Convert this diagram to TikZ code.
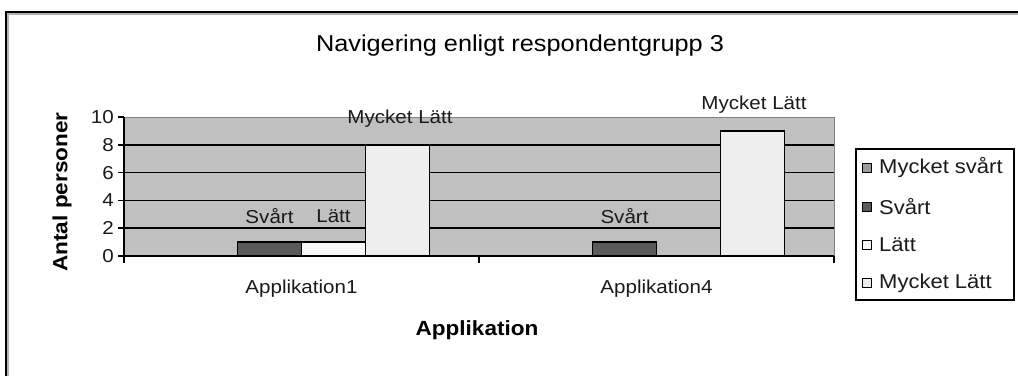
\documentclass[tikz,border=0pt]{standalone}
\usepackage{fontspec}
\setmainfont{Liberation Sans}[FakeStretch=1.1]
\definecolor{plotbg}{HTML}{C0C0C0}
\definecolor{mycketsvart}{HTML}{9C9C9C}
\definecolor{svart}{HTML}{5A5A5A}
\definecolor{latt}{HTML}{F8F8F8}
\definecolor{mycketlatt}{HTML}{EEEEEE}
\definecolor{labelgray}{HTML}{1A1A1A}
\newcommand{\lbl}{\fontsize{18.7}{22}\selectfont}
\newcommand{\leg}{\fontsize{20}{24}\selectfont}
\newcommand{\ttl}{\fontsize{23}{26}\selectfont}
\newcommand{\axttl}{\fontsize{20.5}{24}\selectfont\bfseries}
\begin{document}
\begin{tikzpicture}[x=1pt,y=-1pt,
  gridline/.style={line width=1.5pt,black},
  axisline/.style={line width=1.5pt,black},
  bar/.style={draw=black,line width=1.8pt},
  txt/.style={inner sep=0pt,text=labelgray,font=\lbl},
  legtxt/.style={inner sep=0pt,text=labelgray,font=\leg,anchor=west},
  legkey/.style={draw=black,line width=1.2pt,minimum size=9pt,inner sep=0pt},
]
\useasboundingbox (0,0) rectangle (1018,376);
\fill[white] (0,0) rectangle (1018,376);

% outer chart frame (only left and top edges are visible)
\draw[gray!60,line width=1.5pt] (7.8,376) -- (7.8,13.8) -- (1018,13.8);
\draw[black,line width=2pt] (6,376) -- (6,12) -- (1018,12);

% title
\node[inner sep=0pt,font=\ttl] (title) at (520,46) {Navigering enligt respondentgrupp 3};

% plot area
\fill[plotbg] (124,117) rectangle (834,256);
\draw[gray,line width=1pt] (124,117) -- (834,117) -- (834,256);
\foreach \v in {2,4,6,8}
  \draw[gridline] (124,{256-13.9*\v}) -- (834,{256-13.9*\v});

% bars: Applikation1
\filldraw[bar,fill=svart] (237.5,256) rectangle (301.5,{256-13.9*1});
\filldraw[bar,fill=latt] (301.5,256) rectangle (365.5,{256-13.9*1});
\filldraw[bar,fill=mycketlatt] (365.5,256) rectangle (429.5,{256-13.9*8});
% bars: Applikation4
\filldraw[bar,fill=svart] (592.5,256) rectangle (656.5,{256-13.9*1});
\filldraw[bar,fill=mycketlatt] (720.5,256) rectangle (784.5,{256-13.9*9});

% axes and ticks
\draw[axisline] (124,117) -- (124,256) -- (834,256);
\foreach \v in {0,2,...,10}{
  \draw[axisline] (118,{256-13.9*\v}) -- (124,{256-13.9*\v});
  \node[txt,anchor=east] (ytick\v) at (114,{256-13.9*\v}) {\v};
}
\foreach \x in {124,479,834}
  \draw[axisline] (\x,256) -- (\x,263);

% data labels
\node[txt] (l1) at (269.5,216) {Svårt};
\node[txt] (l2) at (333.5,216) {Lätt};
\node[txt] (l3) at (400,119) {Mycket Lätt};
\node[txt] (l4) at (624.5,216) {Svårt};
\node[txt] (l5) at (754,105) {Mycket Lätt};

% category labels
\node[txt] (c1) at (301.5,289) {Applikation1};
\node[txt] (c2) at (656.5,289) {Applikation4};

% axis titles
\node[inner sep=0pt,font=\axttl] (xtitle) at (477,330) {Applikation};
\node[inner sep=0pt,font=\axttl,rotate=90] (ytitle) at (62,192) {Antal personer};

% legend
\draw[black,line width=1.4pt] (856,149) rectangle (1014,300);
\node[legkey,fill=mycketsvart] (k1) at (867,168) {};
\node[legkey,fill=svart] (k2) at (867,207) {};
\node[legkey,fill=latt] (k3) at (867,245) {};
\node[legkey,fill=mycketlatt] (k4) at (867,283) {};
\node[legtxt] (t1) at (879,168) {Mycket svårt};
\node[legtxt] (t2) at (879,207) {Svårt};
\node[legtxt] (t3) at (879,245) {Lätt};
\node[legtxt] (t4) at (879,283) {Mycket Lätt};
\end{tikzpicture}
\end{document}
